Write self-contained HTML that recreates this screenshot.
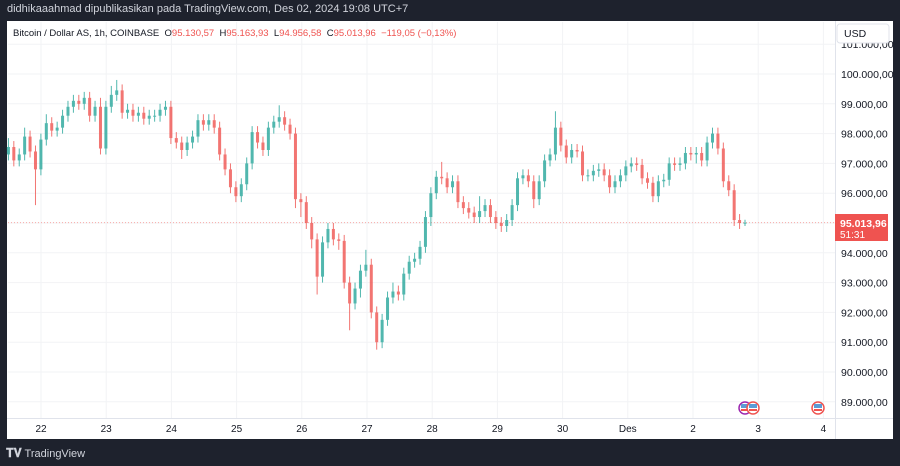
<!DOCTYPE html>
<html><head><meta charset="utf-8">
<style>
html,body{margin:0;padding:0;width:900px;height:466px;overflow:hidden;background:#1e222d;font-family:"Liberation Sans",sans-serif;}
#hdr{position:absolute;left:7px;top:3px;color:#d1d4dc;font-size:11px;}
#panel{position:absolute;left:7px;top:21px;width:886px;height:418px;background:#fff;}
#foot{position:absolute;left:6px;top:446px;color:#d1d4dc;font-size:11px;}
</style></head><body>
<div id="hdr">didhikaaahmad dipublikasikan pada TradingView.com, Des 02, 2024 19:08 UTC+7</div>
<div id="panel"></div>
<div id="foot"><b style="font-size:12px">𝐓𝐕</b> TradingView</div>
<svg id="chart" width="900" height="466" style="position:absolute;left:0;top:0"></svg>
<script>
const closes=[97.55,97.1,97.3,97.9,97.4,96.8,97.8,98.35,98.1,98.2,98.6,98.9,99.1,99.0,99.2,98.6,98.9,97.5,98.9,99.3,99.45,98.7,98.8,98.6,98.7,98.5,98.6,98.6,98.8,98.9,97.85,97.7,97.45,97.7,97.9,98.45,98.3,98.45,98.2,97.3,96.8,96.2,95.9,96.3,97.0,98.05,97.7,97.45,98.2,98.4,98.55,98.3,98.0,95.8,95.7,95.0,94.45,93.2,94.35,94.8,94.45,94.4,93.0,92.3,92.8,93.4,93.6,92.0,91.0,91.75,92.5,92.7,92.6,93.3,93.7,93.8,94.2,95.2,96.0,96.55,96.5,96.2,96.4,95.7,95.5,95.35,95.2,95.4,95.6,95.2,95.0,94.9,95.1,95.6,96.5,96.6,96.4,95.8,96.4,97.1,97.3,98.2,97.6,97.2,97.45,97.4,96.6,96.6,96.75,96.8,96.6,96.2,96.4,96.6,96.9,97.0,96.95,96.5,96.35,95.9,96.4,96.45,97.0,96.95,97.0,97.35,97.3,97.35,97.1,97.7,98.0,97.5,96.4,96.1,95.1,95.0,95.01];
const wickHi=[0.3,0.2,0.2,0.3,0.2,0.2,0.2,0.3,0.2,0.2,0.2,0.2,0.2,0.2,0.2,0.2,0.2,0.3,0.2,0.3,0.35,0.2,0.2,0.2,0.2,0.2,0.2,0.2,0.2,0.2,0.2,0.2,0.2,0.2,0.2,0.2,0.2,0.2,0.2,0.2,0.2,0.2,0.2,0.2,0.2,0.2,0.2,0.2,0.2,0.2,0.4,0.2,0.2,0.2,0.2,0.2,0.2,0.2,0.2,0.2,0.2,0.2,0.2,0.2,0.2,0.2,0.5,0.2,0.2,0.2,0.2,0.3,0.2,0.2,0.2,0.2,0.2,0.2,0.2,0.2,0.5,0.2,0.2,0.2,0.2,0.2,0.2,0.5,0.2,0.2,0.2,0.2,0.2,0.2,0.2,0.2,0.2,0.2,0.2,0.2,0.2,0.55,0.2,0.2,0.2,0.2,0.2,0.2,0.2,0.2,0.2,0.2,0.2,0.2,0.2,0.2,0.2,0.2,0.2,0.2,0.2,0.2,0.2,0.2,0.2,0.2,0.2,0.2,0.2,0.2,0.2,0.2,0.2,0.2,0.2,0.2,0.1];
const wickLo=[0.2,0.2,0.2,0.2,0.2,1.2,0.2,0.2,0.2,0.2,0.2,0.2,0.2,0.2,0.2,0.2,0.2,0.2,0.2,0.2,0.2,0.2,0.2,0.2,0.2,0.2,0.2,0.2,0.2,0.2,0.2,0.2,0.3,0.2,0.2,0.2,0.2,0.2,0.2,0.2,0.2,0.2,0.2,0.2,0.2,0.2,0.2,0.2,0.2,0.2,0.2,0.2,0.2,0.3,0.5,0.2,0.3,0.6,0.2,0.2,0.2,0.3,0.2,0.9,0.2,0.3,0.2,0.2,0.25,0.2,0.2,0.2,0.2,0.2,0.2,0.2,0.2,0.2,0.3,0.2,0.2,0.2,0.2,0.2,0.2,0.2,0.2,0.2,0.2,0.2,0.2,0.2,0.2,0.2,0.2,0.2,0.2,0.3,0.2,0.2,0.2,0.2,0.2,0.2,0.2,0.2,0.2,0.2,0.2,0.2,0.2,0.2,0.2,0.2,0.2,0.2,0.2,0.2,0.2,0.2,0.2,0.2,0.2,0.2,0.2,0.2,0.2,0.3,0.2,0.2,0.2,0.2,0.2,0.2,0.2,0.2,0.1];
const firstOpen=97.3;
const priceTicks=[101,100,99,98,97,96,95,94,93,92,91,90,89];
const dayLabels=["22","23","24","25","26","27","28","29","30","Des","2","3","4"];
const lastPrice=95.01396;

const NS="http://www.w3.org/2000/svg";
const svg=document.getElementById('chart');
function el(t,a,p){const e=document.createElementNS(NS,t);for(const k in a)e.setAttribute(k,a[k]);(p||svg).appendChild(e);return e;}
function yS(p){return 74+(100-p)*29.8;}
function xS(i){return 8.4+i*(745-8.4)/136;}
function xDay(d){return 41+d*65.2;}

// grid
priceTicks.forEach(p=>{const l=el('line',{x1:8,x2:835,y1:yS(p),y2:yS(p),stroke:'#f2f3f5','stroke-width':1});

});
dayLabels.forEach((d,i)=>{const l=el('line',{x1:xDay(i),x2:xDay(i),y1:22,y2:419,stroke:'#f2f3f5','stroke-width':1});

});

// axes separators
el('line',{x1:835.5,x2:835.5,y1:21,y2:439,stroke:'#e0e3eb'});
el('line',{x1:7,x2:893,y1:418.5,y2:418.5,stroke:'#e0e3eb'});

// last price line
const lp=el('line',{x1:8,x2:835,y1:yS(lastPrice),y2:yS(lastPrice),stroke:'#f7a9a7','stroke-width':1,'stroke-dasharray':'1,2'});



// candles
let prev=firstOpen;
closes.forEach((c,i)=>{
  const o=prev;prev=c;
  const up=c>=o;const col=up?'#26a69a':'#ef5350';
  const hi=Math.max(o,c)+wickHi[i],lo=Math.min(o,c)-wickLo[i];
  const x=xS(i);
  const g=el('g',{opacity:0.8});
  
  
  el('line',{x1:x,x2:x,y1:yS(hi),y2:yS(lo),stroke:col,'stroke-width':1},g);
  const top=yS(Math.max(o,c)),h=Math.max(1,yS(Math.min(o,c))-top);
  el('rect',{x:x-1.5,y:top,width:3,height:h,fill:col},g);
});

// price axis labels
priceTicks.forEach(p=>{const t=el('text',{x:841,y:yS(p)+4,'font-size':'10.5',fill:'#131722','font-family':'Liberation Sans, sans-serif'});
t.textContent=(p).toFixed(0)+'.000,00';

});
// USD box
const ub=el('rect',{x:837,y:24,width:52,height:19,rx:3,fill:'#fff',stroke:'#e0e3eb'});


const ut=el('text',{x:844,y:37,'font-size':'10.5',fill:'#131722'});ut.textContent='USD';
// last price label
const lb=el('rect',{x:835,y:214,width:53,height:27,fill:'#ef5350'});


const l1=el('text',{x:840,y:227,'font-size':'10.5',fill:'#fff','font-weight':'bold'});l1.textContent='95.013,96';
const l2=el('text',{x:840,y:238,'font-size':'10',fill:'#fff'});l2.textContent='51:31';

// time labels
dayLabels.forEach((d,i)=>{const t=el('text',{x:xDay(i),y:432,'font-size':'10',fill:'#131722','text-anchor':'middle'});
t.textContent=d;

});

// legend
const lg=el('text',{x:13,y:36,'font-size':'9.5',fill:'#131722'});


lg.innerHTML='Bitcoin / Dollar AS, 1h, COINBASE  O<tspan fill="#ef5350">95.130,57</tspan>  H<tspan fill="#ef5350">95.163,93</tspan>  L<tspan fill="#ef5350">94.956,58</tspan>  C<tspan fill="#ef5350">95.013,96</tspan>  <tspan fill="#ef5350">−119,05 (−0,13%)</tspan>';
lg.setAttribute('xml:space','preserve');lg.style.whiteSpace='pre';

// event icons
[[745,'#9c27b0'],[753,'#ef5350'],[818,'#ef5350']].forEach(([x,c])=>{const e=el('circle',{cx:x,cy:408,r:6,fill:'#fff',stroke:c,'stroke-width':1.5});


el('rect',{x:x-4,y:404,width:8,height:4,fill:'#5b9bd5'});
el('rect',{x:x-4,y:409,width:8,height:2,fill:'#ef5350'});});
</script>
</body></html>
